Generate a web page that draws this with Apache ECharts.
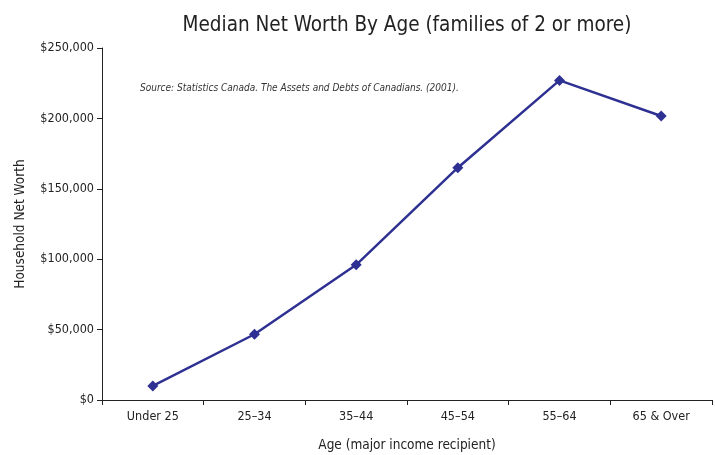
<!DOCTYPE html>
<html>
<head>
<meta charset="utf-8">
<script src="https://cdn.jsdelivr.net/npm/echarts@6/dist/echarts.min.js"></script>
<style>
  html, body { margin: 0; padding: 0; background: #fff; }
  #chart { width: 715px; height: 455px; }
</style>
</head>
<body>
<div id="chart"></div>
<script>
const ageGroups = ["Under 25", "25\u201334", "35\u201344", "45\u201354", "55\u201364", "65 & Over"];
const netWorth = [10000, 46700, 96000, 165000, 227000, 201700];
const yTicks = [0, 50000, 100000, 150000, 200000, 250000];

const font = "'DejaVu Sans Condensed', 'DejaVu Sans', sans-serif";
const lineColor = "#2e3192";

const chart = echarts.init(document.getElementById("chart"));

const option = {
  backgroundColor: "#fff",
  animation: false,
  title: {
    text: "Median Net Worth By Age (families of 2 or more)",
    left: 402,
    top: 10,
    textAlign: "center",
    textStyle: {
      fontFamily: font,
      fontSize: 20.5,
      fontWeight: "normal",
      color: "#222",
    },
  },
  graphic: [
    {
      type: "text",
      left: 140,
      top: 83,
      style: {
        text: "Source: Statistics Canada. The Assets and Debts of Canadians. (2001).",
        font: "italic 10px " + font,
        fill: "#333",
      },
    },
  ],
  grid: {
    left: 102,
    right: 3,
    top: 48,
    bottom: 55,
    containLabel: false,
    outerBoundsMode: "none",
  },
  xAxis: {
    type: "category",
    data: ageGroups,
    boundaryGap: true,
    name: "Age (major income recipient)",
    nameLocation: "middle",
    nameGap: 38,
    nameTextStyle: { fontFamily: font, fontSize: 13.5, color: "#222" },
    axisLine: { lineStyle: { color: "#222", width: 1 } },
    axisTick: { show: true, alignWithLabel: false, length: 5, lineStyle: { color: "#222" } },
    axisLabel: { fontFamily: font, fontSize: 12.5, color: "#222", margin: 10 },
    splitLine: { show: false },
  },
  yAxis: {
    type: "value",
    min: yTicks[0],
    max: yTicks[yTicks.length - 1],
    interval: yTicks[1] - yTicks[0],
    name: "Household Net Worth",
    nameLocation: "middle",
    nameGap: 75,
    nameRotate: 90,
    nameTextStyle: { fontFamily: font, fontSize: 13.5, color: "#222" },
    axisLine: { show: true, lineStyle: { color: "#222", width: 1 } },
    axisTick: { show: true, length: 5, lineStyle: { color: "#222" } },
    axisLabel: {
      fontFamily: font,
      fontSize: 12.5,
      color: "#222",
      margin: 8,
      formatter: (v) => "$" + v.toLocaleString("en-US"),
    },
    splitLine: { show: false },
  },
  series: [
    {
      type: "line",
      data: netWorth,
      symbol: "diamond",
      symbolSize: 11,
      lineStyle: { color: lineColor, width: 2.5 },
      itemStyle: { color: lineColor },
    },
  ],
};

chart.setOption(option);
</script>
</body>
</html>
